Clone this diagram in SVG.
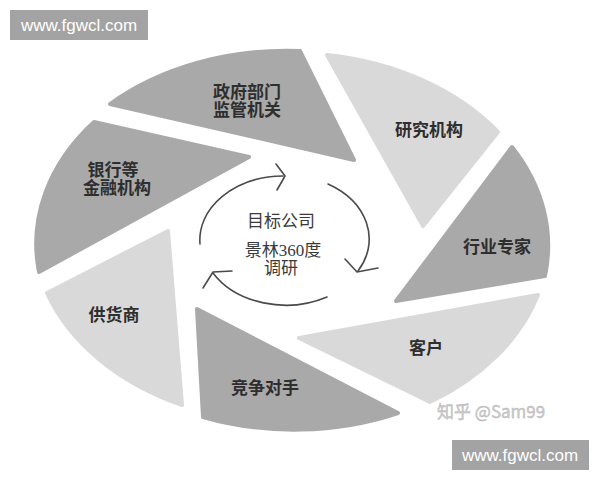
<svg xmlns="http://www.w3.org/2000/svg" width="600" height="480" viewBox="0 0 600 480">
<defs>
<style>
.dark{fill:#a9a9a9;stroke:#a9a9a9;stroke-width:4;stroke-linejoin:round}
.light{fill:#d9d9d9;stroke:#d9d9d9;stroke-width:4;stroke-linejoin:round}
.lbl{font-family:"Liberation Serif","Noto Sans CJK SC",serif;font-size:17px;fill:#2e2e2e;text-anchor:middle;dominant-baseline:central;font-weight:bold}
.ctr{font-family:"Liberation Serif","Noto Sans CJK SC",serif;font-size:17px;fill:#3a3a3a;text-anchor:middle;dominant-baseline:central}
.arc{fill:none;stroke:#4a4a4a;stroke-width:1.6;stroke-linecap:round;stroke-linejoin:round}
.wm{fill:#a3a3a3}
.wmt{font-family:"Liberation Sans",Arial,sans-serif;font-size:17px;fill:#ffffff;text-anchor:middle}
</style>
</defs>
<rect width="600" height="480" fill="#ffffff"/>

<g id="node-gov">
<path class="dark" d="M110,104 A255,192 0 0,1 300,51 L354,160 Z"/>
<text class="lbl" x="247" y="92">政府部门</text>
<text class="lbl" x="247" y="110">监管机关</text>
</g>
<g id="node-research">
<path class="light" d="M327,55 A255,192 0 0,1 498,132 L423,226 Z"/>
<text class="lbl" x="429" y="130">研究机构</text>
</g>
<g id="node-expert">
<path class="dark" d="M512,147 A255,192 0 0,1 545,276 L396,301 Z"/>
<text class="lbl" x="497" y="247">行业专家</text>
</g>
<g id="node-customer">
<path class="light" d="M538,295 A255,192 0 0,1 430,402 L299,338 Z"/>
<text class="lbl" x="426" y="348">客户</text>
</g>
<g id="node-competitor">
<path class="dark" d="M398,413 A255,192 0 0,1 203,417 L197,309 Z"/>
<text class="lbl" x="265" y="388">竞争对手</text>
</g>
<g id="node-supplier">
<path class="light" d="M182,405 A255,192 0 0,1 47,293 L168,231 Z"/>
<text class="lbl" x="114" y="315">供货商</text>
</g>
<g id="node-bank">
<path class="dark" d="M39,272 A255,192 0 0,1 94,122 L249,157 Z"/>
<text class="lbl" x="113" y="170">银行等</text>
<text class="lbl" x="117" y="188">金融机构</text>
</g>

<g id="node-center">
<text class="ctr" x="281" y="221">目标公司</text>
<text class="ctr" x="283" y="250">景林360度</text>
<text class="ctr" x="281" y="268">调研</text>
</g>

<g id="connectors">
<path class="arc" d="M200,244 A84,64 0 0,1 283,176"/>
<polyline class="arc" points="276,164 285,176 277,190"/>
<path class="arc" d="M328,184 A84,64 0 0,1 358,271"/>
<polyline class="arc" points="345,259 357,272 378,268"/>
<path class="arc" d="M327,297 A84,64 0 0,1 213,273"/>
<polyline class="arc" points="232,271 213,272 203,288"/>
</g>

<text x="437" y="418" font-family="'Noto Sans CJK SC','Liberation Sans',sans-serif" font-size="17" fill="#cccccc" stroke="#b5b5b5" stroke-width="0.4">知乎 @Sam99</text>

<g id="watermark-top">
<rect class="wm" x="10" y="10" width="138" height="30"/>
<text class="wmt" x="79" y="31">www.fgwcl.com</text>
</g>
<g id="watermark-bottom">
<rect class="wm" x="452" y="440" width="137" height="30"/>
<text class="wmt" x="520" y="461">www.fgwcl.com</text>
</g>
</svg>
